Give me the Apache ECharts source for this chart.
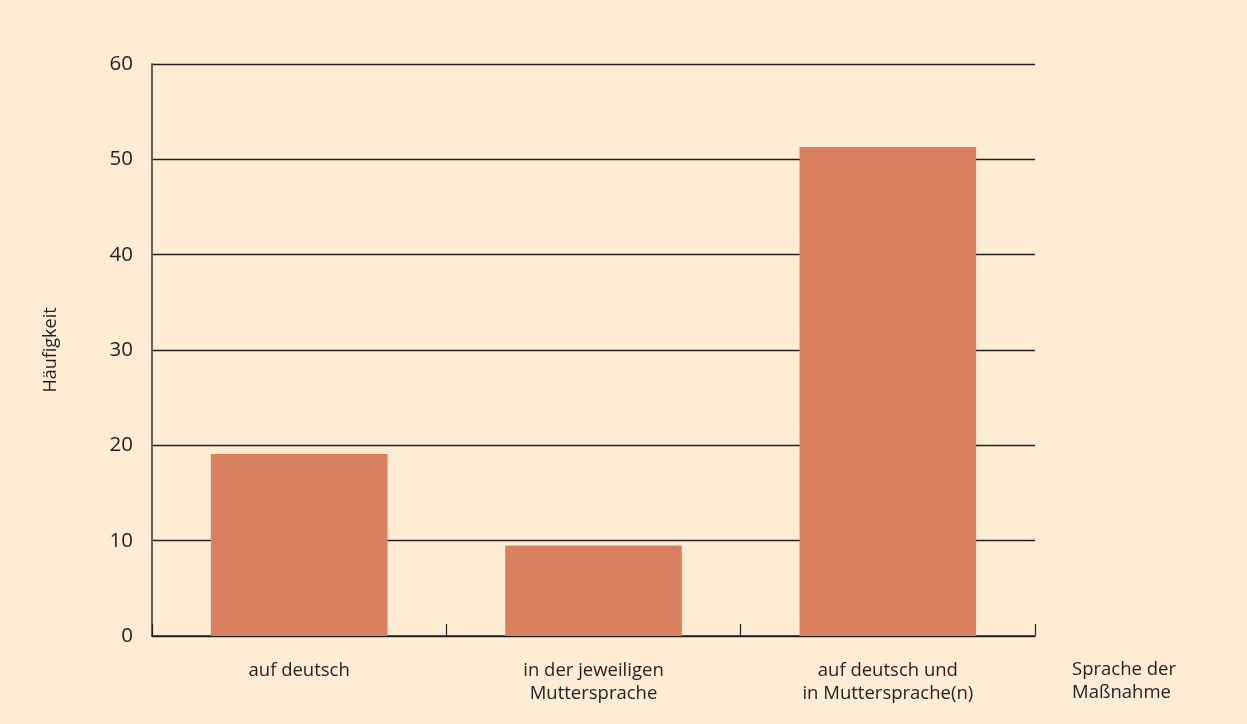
<!DOCTYPE html>
<html>
<head>
<meta charset="utf-8">
<script src="https://cdn.jsdelivr.net/npm/echarts@6/dist/echarts.min.js"></script>
<style>
  html, body { margin: 0; padding: 0; background: #feecd5; }
  #chart { width: 1247px; height: 724px; }
</style>
</head>
<body>
<div id="chart"></div>
<script>
// categories and values
const categories = ['auf deutsch', 'in der jeweiligen\nMuttersprache', 'auf deutsch und\nin Muttersprache(n)']
const frequency = [19.1, 9.5, 51.3]

const chart = echarts.init(document.getElementById('chart'))
const option = {
  backgroundColor: '#feecd5',
  textStyle: { fontFamily: 'Open Sans' },
  grid: { left: 152, right: 212, top: 64, bottom: 88 },
  xAxis: {
    type: 'category',
    data: categories,
    name: 'Sprache der\nMaßnahme',
    nameLocation: 'end',
    nameGap: 37,
    nameTextStyle: {
      color: '#231f20', fontSize: 18.5, align: 'left', verticalAlign: 'top',
      lineHeight: 23, padding: [22, 0, 0, 0]
    },
    axisLine: { lineStyle: { color: '#231f20', width: 1.5 } },
    axisTick: { show: true, inside: true, length: 12, lineStyle: { color: '#231f20', width: 1.2 } },
    axisLabel: { color: '#231f20', fontSize: 18.5, margin: 23, lineHeight: 23 }
  },
  yAxis: {
    type: 'value',
    min: 0,
    max: 60,
    interval: 10,
    name: 'Häufigkeit',
    nameLocation: 'middle',
    nameGap: 92,
    nameTextStyle: { color: '#231f20', fontSize: 18 },
    axisLine: { show: true, lineStyle: { color: '#6b625c', width: 2 } },
    axisTick: { show: false },
    axisLabel: { color: '#231f20', fontSize: 20.5, margin: 19 },
    splitLine: { show: true, lineStyle: { color: '#231f20', width: 1.3 } }
  },
  series: [
    {
      type: 'bar',
      data: frequency,
      barWidth: '60%',
      itemStyle: { color: '#d97f5d' },
      z: 3
    }
  ]
}
chart.setOption(option)
</script>
</body>
</html>
